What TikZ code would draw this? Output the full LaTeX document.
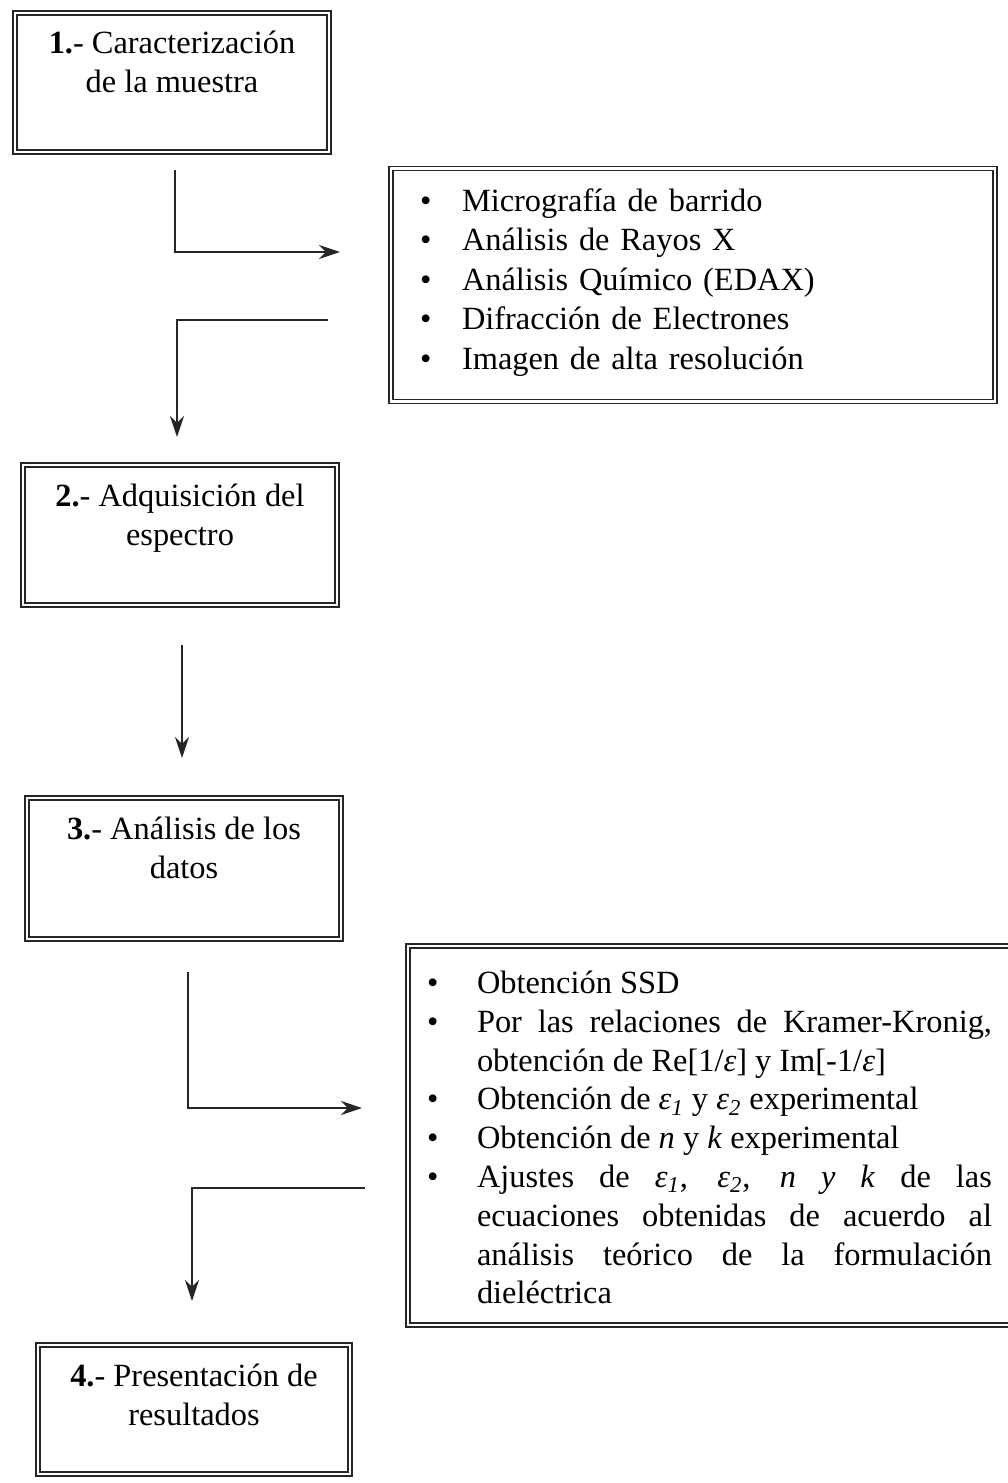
\documentclass[tikz,border=0pt]{standalone}
\usepackage{fontspec}
\setmainfont{Liberation Serif}
\usetikzlibrary{arrows.meta, positioning}

% lista con viñeta pegada al borde izquierdo
\newenvironment{puntos}[1]{%
  \begin{list}{\textbullet}{\setlength{\leftmargin}{#1}\setlength{\labelsep}{0pt}%
    \setlength{\labelwidth}{#1}\renewcommand{\makelabel}[1]{\rlap{##1}\hfil}%
    \setlength{\itemsep}{0pt}\setlength{\topsep}{0pt}\setlength{\parsep}{0pt}%
    \setlength{\partopsep}{0pt}}}%
  {\end{list}}
\newcommand{\eps}[1]{\textit{ε\textsubscript{#1}}}

\begin{document}
\begin{tikzpicture}[x=0.5pt, y=-0.5pt, >={Stealth[length=10.5pt, width=7pt]}]
	\tikzstyle{caja} = [draw=black!85, line width=0.9pt, double, double distance=1.1pt, inner sep=0pt,
		font=\fontsize{16.2}{19.5}\selectfont]
	\tikzstyle{paso} = [caja, align=center, minimum width=157pt]
	\tikzstyle{flecha} = [->, draw=black!85, line width=1pt]

	\useasboundingbox (0,0) rectangle (1007,1483);

	% pasos
	\node[paso, minimum height=69.5pt] (p1) at (172,82.5)
		{\textbf{1.}- Caracterización\\de la muestra\\[0.85pt]\mbox{}};
	\node[paso, minimum height=70pt] (p2) at (180,535)
		{\textbf{2.}- Adquisición del\\espectro\\[0.85pt]\mbox{}};
	\node[paso, minimum height=70.5pt] (p3) at (184,868.5)
		{\textbf{3.}- Análisis de los\\datos\\[0.85pt]\mbox{}};
	\node[paso, minimum width=156pt, minimum height=64.5pt] (p4) at (194,1409.5)
		{\textbf{4.}- Presentación de\\resultados\\[-5.15pt]\mbox{}};

	% listas
	\node[caja, text width=273pt, inner xsep=14.5pt, minimum height=116.5pt,
		font=\fontsize{16.2}{19.75}\selectfont] (l1) at (693,285)
		{\begin{puntos}{21pt}
			\item Micrografía de barrido
			\item Análisis de Rayos X
			\item Análisis Químico (EDAX)
			\item Difracción de Electrones
			\item Imagen de alta resolución
		\end{puntos}\par\kern11pt};
	\node[caja, text width=282.5pt, inner xsep=9.5pt, minimum height=189.5pt, align=justify,
		font=\fontsize{16.2}{19.4}\selectfont] (l2) at (709.5,1135.5)
		{\hyphenpenalty=10000
		\begin{puntos}{25pt}
			\item Obtención SSD
			\item Por las relaciones de Kramer-Kronig,\linebreak
				obtención de Re[1/\textit{ε}] y Im[-1/\textit{ε}]
			\item Obtención de \eps{1} y \eps{2} experimental
			\item Obtención de \textit{n} y \textit{k} experimental
			\item Ajustes de \eps{1}, \eps{2}, \textit{n y k} de las\linebreak
				ecuaciones obtenidas de acuerdo al\linebreak
				análisis teórico de la formulación\linebreak
				dieléctrica
		\end{puntos}\par\kern6pt};

	% flechas
	\coordinate (a1) at (175,170);
	\coordinate (b1) at (340,252);
	\coordinate (a2) at (328,320);
	\coordinate (b2) at (177,437);
	\coordinate (a3) at (182,645);
	\coordinate (b3) at (182,758);
	\coordinate (a4) at (188,972);
	\coordinate (b4) at (362,1108);
	\coordinate (a5) at (365,1188);
	\coordinate (b5) at (192,1301);

	\draw[flecha] (a1) |- (b1);
	\draw[flecha] (a2) -| (b2);
	\draw[flecha] (a3) -- (b3);
	\draw[flecha] (a4) |- (b4);
	\draw[flecha] (a5) -| (b5);
\end{tikzpicture}
\end{document}
